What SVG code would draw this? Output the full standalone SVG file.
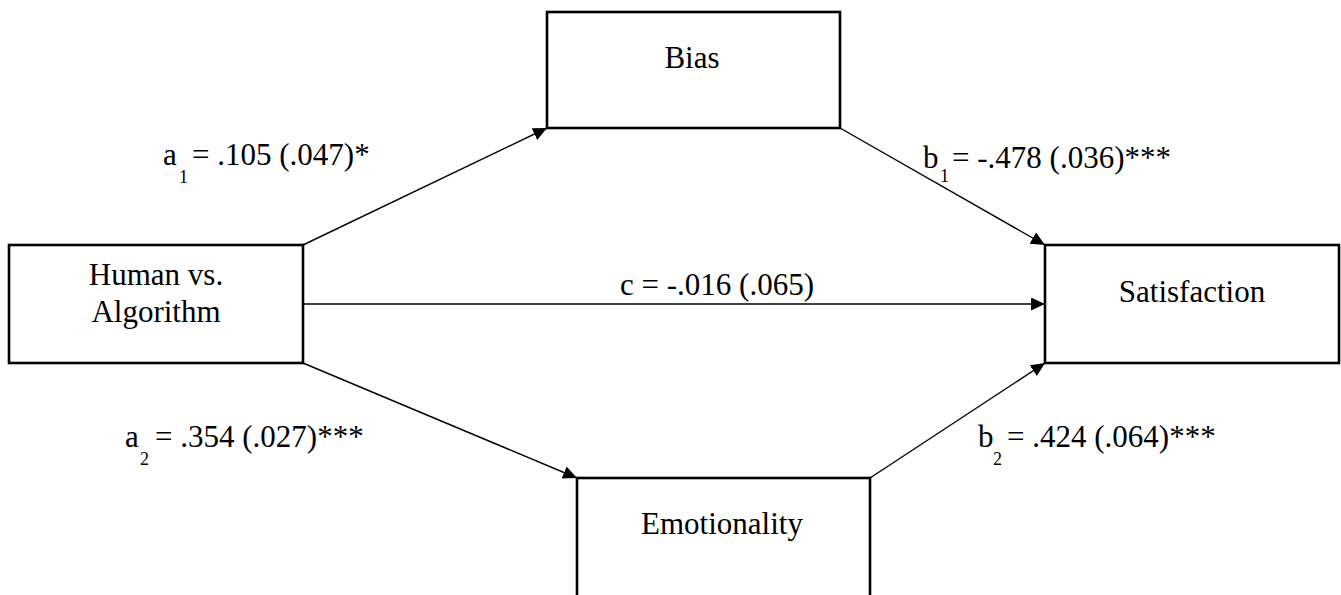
<svg xmlns="http://www.w3.org/2000/svg" width="1341" height="595" viewBox="0 0 1341 595">
<style>
.box{fill:#fff;stroke:#000;stroke-width:2.6}
.t{font-family:"Liberation Serif","Times New Roman",serif;font-size:31px;fill:#000}
.c{text-anchor:middle}
.sub{font-size:18px}
.edge{stroke:#000;stroke-width:1.4;fill:none;marker-end:url(#ah)}
</style>
<defs>
<marker id="ah" markerUnits="userSpaceOnUse" markerWidth="16" markerHeight="14" refX="14" refY="6.5" orient="auto">
<path d="M0,0 L14,6.5 L0,13 Z" fill="#000"/>
</marker>
</defs>
<rect width="1341" height="595" fill="#fff"/>
<g id="connectors">
<line class="edge" x1="303" y1="245" x2="547" y2="128"/>
<line class="edge" x1="840" y1="128" x2="1045" y2="245"/>
<line class="edge" x1="303" y1="304" x2="1045" y2="304"/>
<line class="edge" x1="303" y1="363" x2="577" y2="478"/>
<line class="edge" x1="870" y1="478" x2="1045" y2="363"/>
</g>
<g id="node-human">
<rect class="box" x="9" y="245" width="294" height="118"/>
<text class="t c" x="156" y="285">Human vs.</text>
<text class="t c" x="156" y="322">Algorithm</text>
</g>
<g id="node-bias">
<rect class="box" x="547" y="12" width="293" height="116"/>
<text class="t c" x="692" y="68">Bias</text>
</g>
<g id="node-satisfaction">
<rect class="box" x="1045" y="245" width="294" height="118"/>
<text class="t c" x="1192" y="302">Satisfaction</text>
</g>
<g id="node-emotionality">
<rect class="box" x="577" y="478" width="293" height="130"/>
<text class="t c" x="722" y="534">Emotionality</text>
</g>
<g id="labels">
<text class="t" x="163" y="165">a</text><text class="t sub" x="179" y="183">1</text><text class="t" x="192" y="165">= .105 (.047)*</text>
<text class="t" x="923" y="168">b</text><text class="t sub" x="940" y="182">1</text><text class="t" x="952" y="168">= -.478 (.036)***</text>
<text class="t c" x="717" y="295">c = -.016 (.065)</text>
<text class="t" x="125" y="447">a</text><text class="t sub" x="140" y="465">2</text><text class="t" x="155" y="447">= .354 (.027)***</text>
<text class="t" x="978" y="447">b</text><text class="t sub" x="993" y="465">2</text><text class="t" x="1007" y="447">= .424 (.064)***</text>
</g>
</svg>
